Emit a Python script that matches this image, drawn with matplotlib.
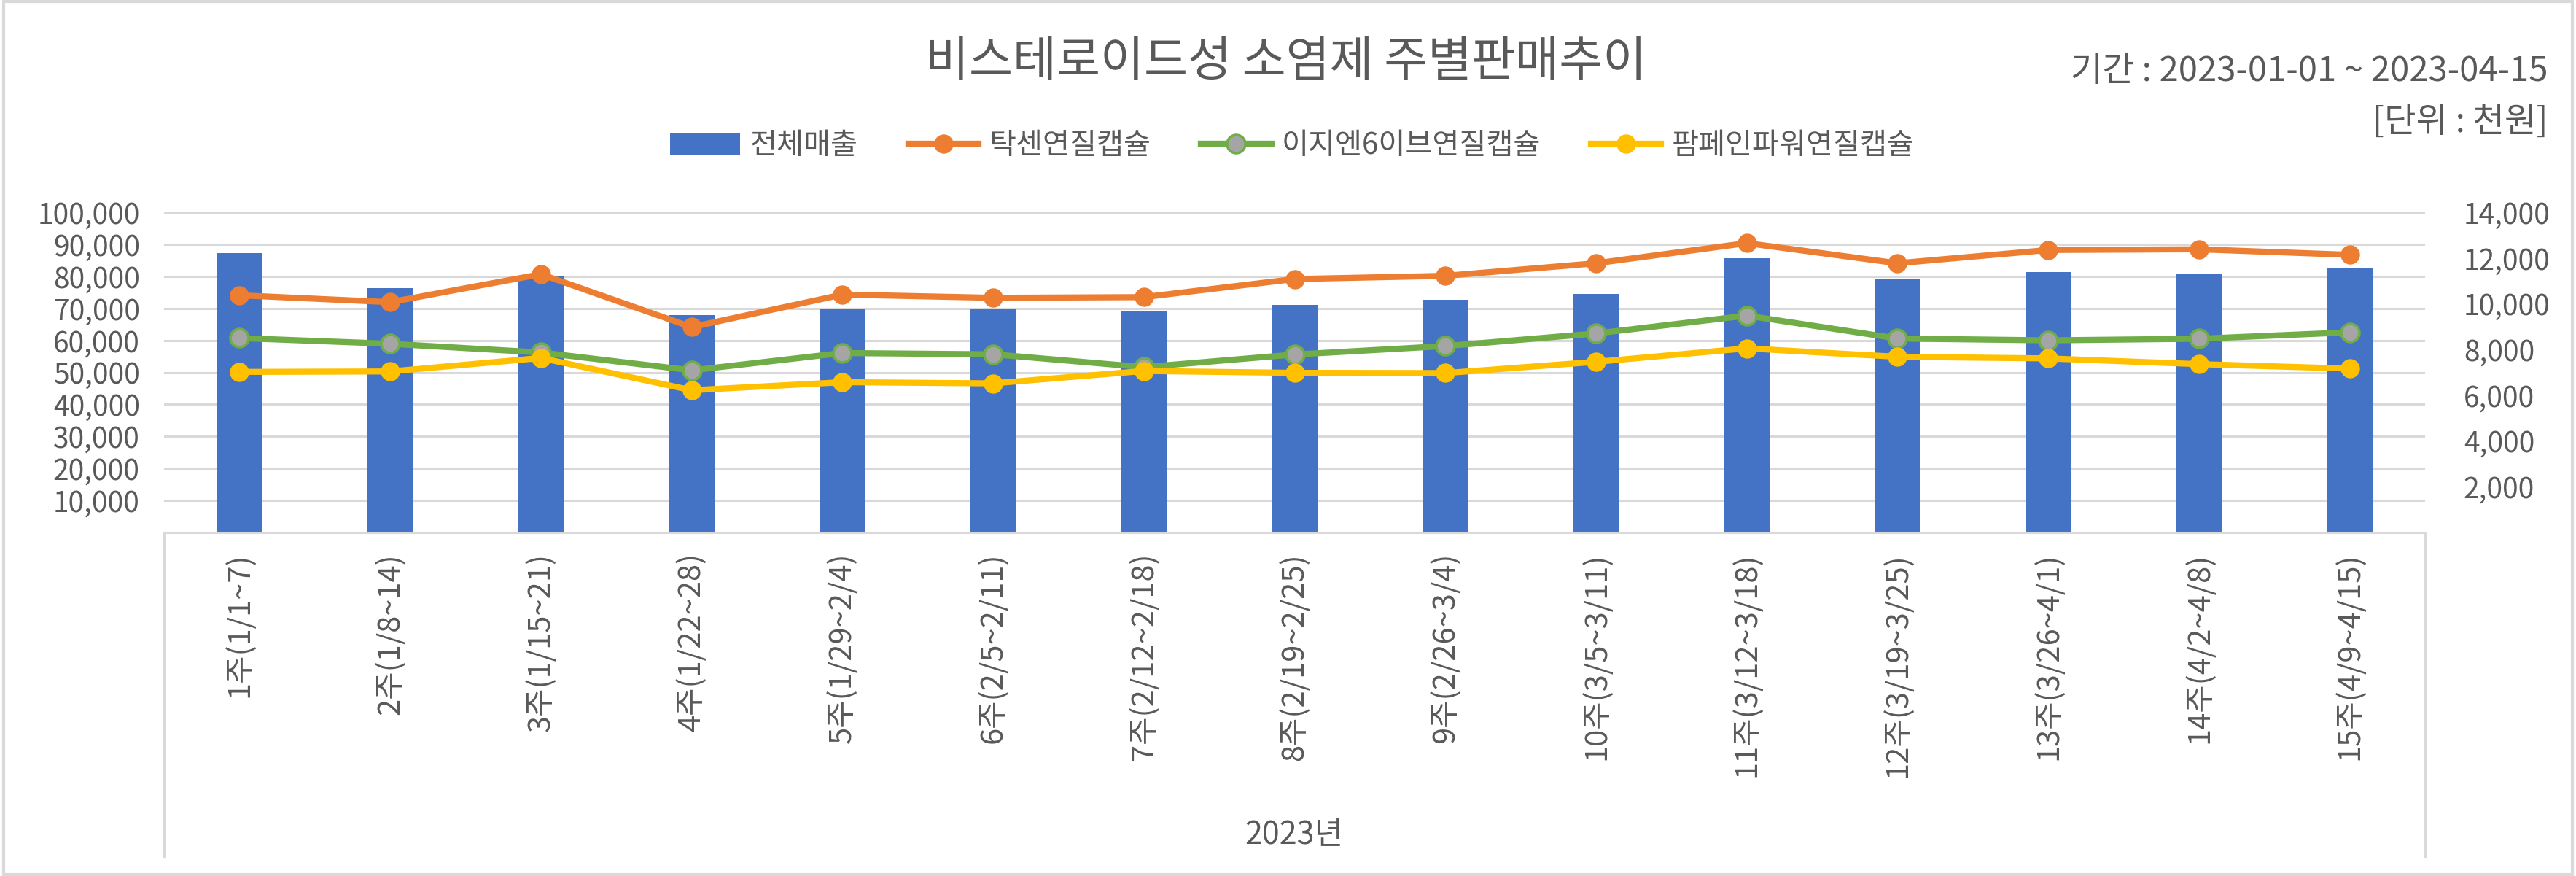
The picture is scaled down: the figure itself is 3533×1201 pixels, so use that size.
import matplotlib
matplotlib.use("Agg")
import matplotlib.pyplot as plt
from matplotlib.lines import Line2D
from matplotlib.patches import Rectangle
from matplotlib.ticker import FuncFormatter

plt.rcParams['font.family'] = ['Noto Sans CJK KR', 'DejaVu Sans']

# weekly data (천원)
weeks = ["1주(1/1~7)", "2주(1/8~14)", "3주(1/15~21)", "4주(1/22~28)", "5주(1/29~2/4)",
         "6주(2/5~2/11)", "7주(2/12~2/18)", "8주(2/19~2/25)", "9주(2/26~3/4)",
         "10주(3/5~3/11)", "11주(3/12~3/18)", "12주(3/19~3/25)", "13주(3/26~4/1)",
         "14주(4/2~4/8)", "15주(4/9~4/15)"]
total_sales = [87200, 76200, 80000, 67900, 69700, 69900, 69000, 71000, 72600,
               74600, 85600, 79000, 81300, 80800, 82600]
taxen = [10370, 10070, 11290, 8980, 10400, 10260, 10290, 11080, 11220,
         11770, 12650, 11770, 12350, 12380, 12140]
easyn6 = [8500, 8250, 7870, 7090, 7845, 7790, 7230, 7780, 8150,
          8700, 9480, 8480, 8400, 8470, 8750]
pampain = [7020, 7040, 7630, 6220, 6570, 6520, 7060, 6980, 6970,
           7460, 8050, 7680, 7610, 7360, 7165]

blue = '#4472C4'
orange = '#ED7D31'
green = '#70AD47'
gray_fill = '#A5A5A5'
yellow = '#FFC000'
txt = '#595959'
grid_c = '#D9D9D9'

W, H = 3533, 1201
fig = plt.figure(figsize=(W / 100, H / 100), dpi=100)

ax = fig.add_axes([225 / W, 1 - 730 / H, 3101 / W, 439 / H])
x = list(range(len(weeks)))

ax.bar(x, total_sales, width=0.3, color=blue, label='전체매출', zorder=2)
ax.set_xlim(-0.5, len(weeks) - 0.5)
ax.set_ylim(0, 100000)
ax.set_yticks(range(10000, 100001, 10000))
ax.yaxis.set_major_formatter(FuncFormatter(lambda v, p: f"{int(v):,}"))
ax.grid(axis='y', color=grid_c, linewidth=2.2)
ax.set_axisbelow(True)
for s in ['top', 'right', 'left']:
    ax.spines[s].set_visible(False)
ax.spines['bottom'].set_color(grid_c)
ax.spines['bottom'].set_linewidth(2.2)
ax.tick_params(axis='y', length=0, labelsize=28, labelcolor=txt, pad=24)
ax.set_xticks(x)
ax.set_xticklabels(weeks, rotation=90, fontsize=30, color=txt)
ax.tick_params(axis='x', length=0, pad=20)

ax2 = ax.twinx()
lw, ms = 6, 18
ax2.plot(x, taxen, color=orange, lw=lw, marker='o', ms=ms, mfc=orange, mec=orange,
         label='탁센연질캡슐', zorder=3)
ax2.plot(x, easyn6, color=green, lw=lw, marker='o', ms=ms, mfc=gray_fill, mec=green,
         mew=2.5, label='이지엔6이브연질캡슐', zorder=3)
ax2.plot(x, pampain, color=yellow, lw=lw, marker='o', ms=ms, mfc=yellow, mec=yellow,
         label='팜페인파워연질캡슐', zorder=3)
ax2.set_ylim(0, 14000)
ax2.set_yticks(range(2000, 14001, 2000))
ax2.yaxis.set_major_formatter(FuncFormatter(lambda v, p: f"{int(v):,}"))
for s in ax2.spines.values():
    s.set_visible(False)
ax2.tick_params(axis='y', length=0, labelsize=28, labelcolor=txt, pad=38)

# title and notes
fig.text(1764 / W, 1 - 86 / H, '비스테로이드성 소염제 주별판매추이', ha='center', va='center',
         fontsize=47, color=txt)
fig.text(3495 / W, 1 - 98 / H, '기간 : 2023-01-01 ~ 2023-04-15', ha='right', va='center',
         fontsize=34, color=txt)
fig.text(3495 / W, 1 - 168 / H, '[단위 : 천원]', ha='right', va='center',
         fontsize=34, color=txt)

# legend
h1, l1 = ax.get_legend_handles_labels()
h2, l2 = ax2.get_legend_handles_labels()
fig.legend(h1 + h2, l1 + l2, loc='center', bbox_to_anchor=(1772 / W, 1 - 200 / H),
           ncol=4, frameon=False, fontsize=29, labelcolor=txt, handlelength=2.4,
           handletextpad=0.35, columnspacing=1.7)

# category group box and group label
for xp in (225, 3326):
    fig.add_artist(Line2D([xp / W, xp / W], [1 - 730 / H, 1 - 1175 / H],
                          color=grid_c, lw=2.2, transform=fig.transFigure))
fig.text(1775 / W, 1 - 1145 / H, '2023년', ha='center', va='center', fontsize=31, color=txt)

# outer border
fig.add_artist(Rectangle((0.0015, 0.002), 0.997, 0.996, fill=False, edgecolor=grid_c,
                         lw=3, transform=fig.transFigure))

fig.savefig('out.png', dpi=100, facecolor='white')
